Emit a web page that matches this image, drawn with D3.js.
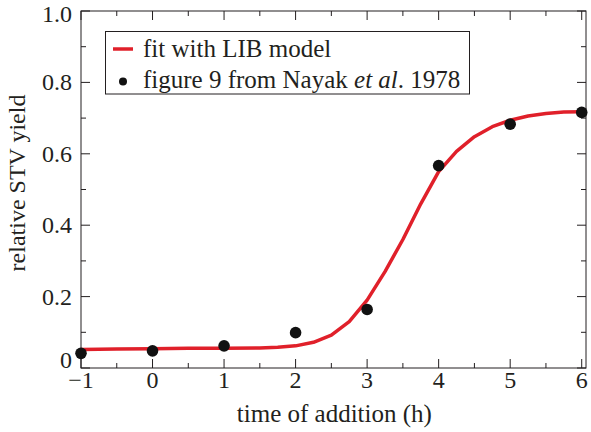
<!DOCTYPE html>
<html>
<head>
<meta charset="utf-8">
<script src="https://cdn.jsdelivr.net/npm/d3@7"></script>
<style>
  html, body { margin: 0; padding: 0; background: #fff; }
  svg { display: block; font-family: "Liberation Serif", "Times New Roman", serif; }
</style>
</head>
<body>
<svg id="chart" width="591" height="432"></svg>
<script>
// ---- data ----
const pointTimes  = [-1, 0, 1, 2, 3, 4, 5, 6];
const pointYields = [0.041, 0.048, 0.062, 0.099, 0.164, 0.567, 0.683, 0.716];

const fitTimes  = [-1, -0.5, 0, 0.5, 1, 1.5, 1.75, 2, 2.25, 2.5, 2.75, 3, 3.25, 3.5, 3.75, 4, 4.25, 4.5, 4.75, 5, 5.25, 5.5, 5.75, 6];
const fitYields = [0.052, 0.053, 0.054, 0.055, 0.055, 0.056, 0.058, 0.062, 0.072, 0.092, 0.13, 0.19, 0.27, 0.36, 0.46, 0.55, 0.607, 0.648, 0.676, 0.694, 0.706, 0.713, 0.717, 0.718];

const xTickValues = [-1, 0, 1, 2, 3, 4, 5, 6];
const xTickLabels = ["\u22121", "0", "1", "2", "3", "4", "5", "6"];
const yTickValues = [0, 0.2, 0.4, 0.6, 0.8, 1.0];
const yTickLabels = ["0", "0.2", "0.4", "0.6", "0.8", "1.0"];
const xMinorTicks = [-0.5, 0.5, 1.5, 2.5, 3.5, 4.5, 5.5];
const yMinorTicks = [0.1, 0.3, 0.5, 0.7, 0.9];

const legendLabels = ["fit with LIB model", "figure 9 from Nayak "];

// ---- layout ----
const svg = d3.select("#chart");
const pL = 81, pR = 586, pT = 11, pB = 368;
const x = d3.scaleLinear().domain([-1, 6.06]).range([pL, pR]);
const y = d3.scaleLinear().domain([0, 1]).range([pB, pT]);
const ink = "#231f20";
const red = "#e0202a";

// frame
svg.append("rect")
  .attr("x", pL).attr("y", pT)
  .attr("width", pR - pL).attr("height", pB - pT)
  .attr("fill", "none").attr("stroke", ink).attr("stroke-width", 1);

// ticks (inward, all sides)
const majorLen = 9, minorLen = 5;
function tickLines(vals, len, orient) {
  const g = svg.append("g").attr("stroke", ink).attr("stroke-width", 1);
  vals.forEach(v => {
    if (orient === "bottom") g.append("line").attr("x1", x(v)).attr("x2", x(v)).attr("y1", pB).attr("y2", pB - len);
    if (orient === "top") g.append("line").attr("x1", x(v)).attr("x2", x(v)).attr("y1", pT).attr("y2", pT + len);
    if (orient === "left") g.append("line").attr("y1", y(v)).attr("y2", y(v)).attr("x1", pL).attr("x2", pL + len);
    if (orient === "right") g.append("line").attr("y1", y(v)).attr("y2", y(v)).attr("x1", pR).attr("x2", pR - len);
  });
}
tickLines(xTickValues, majorLen, "bottom");
tickLines(xTickValues, majorLen, "top");
tickLines(xMinorTicks, minorLen, "bottom");
tickLines(xMinorTicks, minorLen, "top");
tickLines(yTickValues, majorLen, "left");
tickLines(yTickValues, majorLen, "right");
tickLines(yMinorTicks, minorLen, "left");
tickLines(yMinorTicks, minorLen, "right");

// tick labels
const fs = 24;
svg.append("g").selectAll("text").data(xTickValues).join("text")
  .attr("x", d => x(d)).attr("y", 388)
  .attr("text-anchor", "middle").attr("font-size", fs).attr("fill", ink)
  .text((d, i) => xTickLabels[i]);

svg.append("g").selectAll("text").data(yTickValues).join("text")
  .attr("x", 72).attr("y", d => d === 0 ? y(d) : (d === 1 ? y(d) + 11 : y(d) + 8))
  .attr("text-anchor", "end").attr("font-size", fs).attr("fill", ink)
  .text((d, i) => yTickLabels[i]);

// axis titles
svg.append("text")
  .attr("x", (x(-1) + x(6)) / 2 + 3).attr("y", 422)
  .attr("text-anchor", "middle").attr("font-size", 25).attr("fill", ink)
  .text("time of addition (h)");

svg.append("text")
  .attr("transform", "translate(25,183) rotate(-90)")
  .attr("text-anchor", "middle").attr("font-size", 24).attr("fill", ink)
  .text("relative STV yield");

// fit line
const line = d3.line().x(d => x(d[0])).y(d => y(d[1]));
svg.append("path")
  .datum(fitTimes.map((t, i) => [t, fitYields[i]]))
  .attr("d", line)
  .attr("fill", "none").attr("stroke", red).attr("stroke-width", 3.5)
  .attr("stroke-linejoin", "round");

// points
svg.append("g").selectAll("circle").data(pointTimes).join("circle")
  .attr("cx", d => x(d)).attr("cy", (d, i) => y(pointYields[i]))
  .attr("r", 5.8).attr("fill", "#111");

// legend
const lg = svg.append("g");
lg.append("rect").attr("x", 105.5).attr("y", 31.5).attr("width", 364).attr("height", 62.5)
  .attr("fill", "#fff").attr("stroke", ink).attr("stroke-width", 1);
lg.append("line").attr("x1", 113).attr("x2", 133).attr("y1", 49).attr("y2", 49)
  .attr("stroke", red).attr("stroke-width", 3.5);
lg.append("circle").attr("cx", 123).attr("cy", 81.5).attr("r", 4).attr("fill", "#111");
lg.append("text").attr("x", 143).attr("y", 57).attr("font-size", 25).attr("fill", ink)
  .text(legendLabels[0]);
const t2 = lg.append("text").attr("x", 143).attr("y", 88).attr("font-size", 25).attr("fill", ink);
t2.append("tspan").text(legendLabels[1]);
t2.append("tspan").attr("font-style", "italic").text("et al");
t2.append("tspan").text(". 1978");
</script>
</body>
</html>
